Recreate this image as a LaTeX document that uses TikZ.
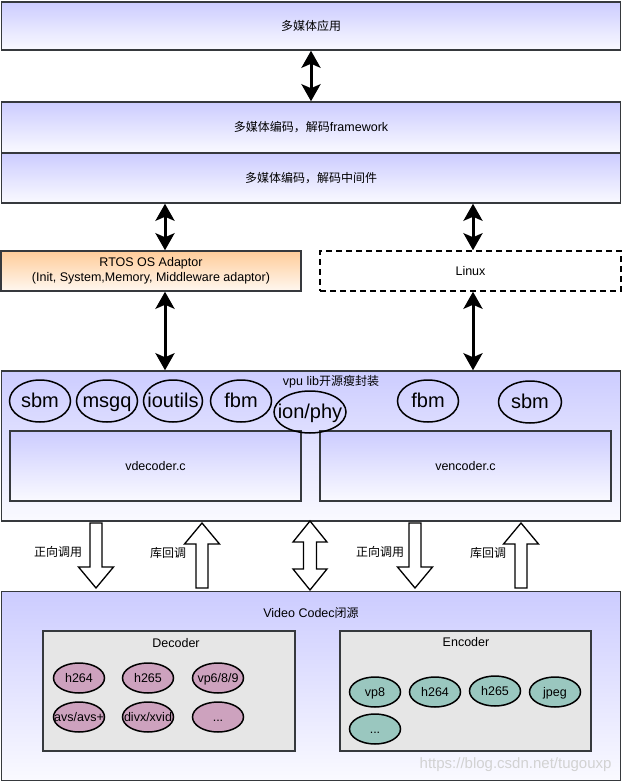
\documentclass[tikz,border=0pt]{standalone}
\usepackage{fontspec}
\setmainfont{Liberation Sans}
\newfontfamily\cjk[Scale=0.96]{Noto Sans CJK SC}
\usetikzlibrary{arrows.meta,shapes.geometric,calc}
\definecolor{lav}{HTML}{CCCCFF}
\definecolor{bord}{HTML}{36393D}
\definecolor{orng}{HTML}{FFCC99}
\definecolor{grp}{HTML}{E6E6E6}
\definecolor{purp}{HTML}{CDA2BE}
\definecolor{teal2}{HTML}{9AC7BF}
\newcommand{\zw}[1]{\makebox[0pt]{#1}}
\begin{document}
\begin{tikzpicture}[x=1pt,y=-1pt,
  every node/.style={font=\fontsize{12.5}{14.5}\selectfont},
  layer/.style={draw=bord, line width=1.5pt, top color=lav, bottom color=lav!10, rectangle, inner sep=0pt},
  rtosbox/.style={draw=bord, line width=1.5pt, top color=orng, bottom color=orng!15, rectangle, inner sep=0pt, align=center},
  linuxbox/.style={draw=black, line width=1.5pt, dash pattern=on 6pt off 4pt, fill=white, rectangle, inner sep=0pt},
  grpbox/.style={draw=bord, line width=1.5pt, fill=grp, rectangle, inner sep=0pt},
  libell/.style={ellipse, draw=black, line width=1.5pt, inner sep=0pt, minimum width=61pt, minimum height=42pt, text height=16pt, text depth=2.5pt, font=\fontsize{20}{22}\selectfont},
  codecell/.style={ellipse, draw=black, line width=1.5pt, inner sep=0pt, minimum width=51pt, minimum height=30pt, text height=10pt, text depth=1.5pt, font=\fontsize{12.5}{14}\selectfont},
  bi/.style={line width=3pt, {Stealth[width=19pt,length=17pt,inset=4pt]}-{Stealth[width=19pt,length=17pt,inset=4pt]}},
  blockarr/.style={draw=black, line width=1.3pt, fill=white, line join=miter},
  downarr/.pic={\draw[blockarr] (-6,0) -- (6,0) -- (6,44) -- (17.5,44) -- (0,65) -- (-17.5,44) -- (-6,44) -- cycle;},
  uparr/.pic={\draw[blockarr] (0,0) -- (17.5,21) -- (6,21) -- (6,65) -- (-6,65) -- (-6,21) -- (-17.5,21) -- cycle;},
  dblarr/.pic={\draw[blockarr] (0,0) -- (17,21) -- (6.5,21) -- (6.5,48) -- (17,48) -- (0,69) -- (-17,48) -- (-6.5,48) -- (-6.5,21) -- (-17,21) -- cycle;}
]
\useasboundingbox (0,0) rectangle (623,783);
\fill[white] (0,0) rectangle (623,783);

% top layers
\node[layer, minimum width=619pt, minimum height=48pt] (app) at (311,26) {{\cjk 多媒体应用}};
\node[layer, minimum width=619pt, minimum height=51pt] (fw) at (311,127.5) {{\cjk 多媒体编码，解码}framework};
\node[layer, minimum width=619pt, minimum height=50pt] (mw) at (311,178) {{\cjk 多媒体编码，解码中间件}};

\node[rtosbox, minimum width=300pt, minimum height=40pt] (rtos) at (151,271) {RTOS OS Adaptor\\(Init, System,Memory, Middleware adaptor)};
\node[linuxbox, minimum width=301pt, minimum height=40pt] (linux) at (470.5,271) {Linux};

% vpu lib
\node[layer, minimum width=619pt, minimum height=150pt] (vpu) at (311,446) {};
\node (vputitle) at (331,382) {vpu lib{\cjk 开源瘦封装}};
\node[layer, minimum width=291pt, minimum height=70pt] (vdec) at (155.5,466) {vdecoder.c};
\node[layer, minimum width=291pt, minimum height=70pt] (venc) at (465.5,466) {vencoder.c};

\node[libell] (sbm1) at (40,401) {\zw{sbm}};
\node[libell] (msgq) at (107,401) {\zw{msgq}};
\node[libell, minimum width=59pt] (ioutils) at (173,401) {\zw{ioutils}};
\node[libell] (fbm1) at (241,401) {\zw{fbm}};
\node[libell, minimum width=72pt] (ion) at (310,412) {\zw{ion/phy}};
\node[libell] (fbm2) at (428,401) {\zw{fbm}};
\node[libell, minimum width=63pt] (sbm2) at (530,402) {\zw{sbm}};

% codec
\node[layer, minimum width=619pt, minimum height=189pt] (codec) at (311,686) {};
\node (codectitle) at (311,613) {Video Codec{\cjk 闭源}};
\node[grpbox, minimum width=252pt, minimum height=120pt] (dec) at (169,691) {};
\node (dectitle) at (176,643) {Decoder};
\node[grpbox, minimum width=251pt, minimum height=120pt] (enc) at (465.5,691) {};
\node (enctitle) at (466,642) {Encoder};

\node[codecell, fill=purp] (d1) at (79,678) {\zw{h264}};
\node[codecell, fill=purp] (d2) at (148,678) {\zw{h265}};
\node[codecell, fill=purp] (d3) at (218,678) {\zw{vp6/8/9}};
\node[codecell, fill=purp] (d4) at (79,717) {\zw{avs/avs+}};
\node[codecell, fill=purp] (d5) at (148,717) {\zw{divx/xvid}};
\node[codecell, fill=purp] (d6) at (218,717) {\zw{...}};

\node[codecell, fill=teal2] (e1) at (375,692) {\zw{vp8}};
\node[codecell, fill=teal2] (e2) at (435,692) {\zw{h264}};
\node[codecell, fill=teal2] (e3) at (495,691) {\zw{h265}};
\node[codecell, fill=teal2] (e4) at (555,692) {\zw{jpeg}};
\node[codecell, fill=teal2] (e5) at (375,729) {\zw{...}};

\node[anchor=east, text=gray!35, font=\fontsize{15}{17}\selectfont] (wm) at (615,765) {https://blog.csdn.net/tugouxp};

% black bidirectional arrows
\coordinate (xl) at (165,0);
\coordinate (xr) at (473,0);
\draw[bi] (app.south) -- (fw.north);
\draw[bi] (xl |- mw.south) -- (xl |- rtos.north);
\draw[bi] (xr |- mw.south) -- (xr |- linux.north);
\draw[bi] (xl |- rtos.south) -- (xl |- vpu.north);
\draw[bi] (xr |- linux.south) -- (xr |- vpu.north);

% block arrows
\pic at (96,523) {downarr};
\pic at (202,523) {uparr};
\pic at (310,521) {dblarr};
\pic at (415,523) {downarr};
\pic at (521,523) {uparr};

\node (lab1) at (58,552) {\cjk 正向调用};
\node (lab2) at (168,553) {\cjk 库回调};
\node (lab3) at (380,552) {\cjk 正向调用};
\node (lab4) at (488,553) {\cjk 库回调};
\end{tikzpicture}
\end{document}
